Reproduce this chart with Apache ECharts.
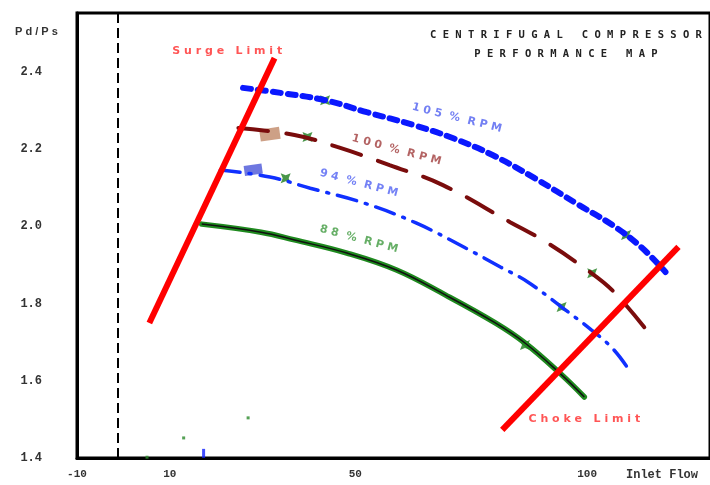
<!DOCTYPE html>
<html>
<head>
<meta charset="utf-8">
<script src="https://cdn.jsdelivr.net/npm/echarts@6/dist/echarts.min.js"></script>
<style>
  html, body { margin: 0; padding: 0; background: #fff; }
  #chart { width: 710px; height: 485px; }
</style>
</head>
<body>
<div id="chart"></div>
<script>
// axis ticks
var xTicks = [-10, 10, 50, 100];
var yTicks = [1.4, 1.6, 1.8, 2.0, 2.2, 2.4];

// speed lines [inlet flow, Pd/Ps]
var rpm105 = [[25.8, 2.359], [33.9, 2.346], [43.5, 2.327], [52.5, 2.296], [62.5, 2.263], [71.0, 2.229],
  [79.6, 2.185], [88.7, 2.125], [98.3, 2.055], [105.4, 2.004], [111.6, 1.947], [116.9, 1.882]];
var rpm100 = [[24.8, 2.255], [36.9, 2.237], [46.1, 2.206], [57.4, 2.159], [68.9, 2.107], [83.4, 2.011],
  [90.4, 1.965], [100.0, 1.887], [105.8, 1.830], [113.3, 1.724]];
var rpm94 = [[20.9, 2.146], [31.6, 2.128], [40.3, 2.099], [51.8, 2.061], [63.1, 2.009], [73.8, 1.944],
  [81.3, 1.895], [87.2, 1.856], [94.5, 1.791], [100.9, 1.732], [105.4, 1.685], [108.6, 1.636]];
var rpm88 = [[16.9, 2.006], [29.7, 1.985], [36.9, 1.965], [48.2, 1.931], [58.9, 1.887], [69.5, 1.822],
  [80.2, 1.750], [86.6, 1.698], [94.1, 1.620], [99.4, 1.558]];

// limit lines
var surgeLimit = [[5.6, 1.750], [32.6, 2.436]];
var chokeLimit = [[81.7, 1.473], [119.7, 1.947]];
var zeroFlow = -1.3;

// operating points
var greenPoints = [[43.5, 2.327], [39.7, 2.232], [35.0, 2.125], [108.4, 1.978], [101.1, 1.879],
  [94.5, 1.791], [86.6, 1.693]];
var strayPoints = [[5.1, 1.402], [13.0, 1.452], [26.9, 1.504]];
var bluePoints = [[17.3, 1.412]];

// label anchors
var labels = [
  { name: '1 0 5  %  R P M', value: [71.9, 2.281], color: '#5060f0', rotate: -14 },
  { name: '1 0 0  %  R P M', value: [58.9, 2.198], color: '#a03c3c', rotate: -15 },
  { name: '9 4  %  R P M', value: [50.8, 2.112], color: '#5062f2', rotate: -15 },
  { name: '8 8  %  R P M', value: [50.8, 1.967], color: '#3f9a3f', rotate: -15 },
  { name: 'S u r g e   L i m i t', value: [22.4, 2.454], color: '#ff2a2a', rotate: 0 },
  { name: 'C h o k e   L i m i t', value: [99.4, 1.501], color: '#ff2a2a', rotate: 0 }
];

var chart = echarts.init(document.getElementById('chart'));

var option = {
  backgroundColor: '#fff',
  animation: false,
  title: {
    text: 'C E N T R I F U G A L   C O M P R E S S O R\nP E R F O R M A N C E   M A P',
    left: 561,
    top: 21,
    textAlign: 'center',
    textStyle: {
      fontFamily: 'DejaVu Sans Mono',
      fontWeight: 'bold',
      fontSize: 10.5,
      lineHeight: 19,
      color: '#222'
    }
  },
  grid: {
    left: 77,
    top: 13,
    width: 640,
    height: 445,
    show: true,
    borderColor: '#000',
    borderWidth: 3
  },
  xAxis: {
    type: 'value',
    min: -10,
    max: 126.5,
    axisLine: { show: true, onZero: false, lineStyle: { color: '#000', width: 3 } },
    axisTick: { show: false },
    splitLine: { show: false },
    axisLabel: {
      customValues: xTicks,
      margin: 11,
      fontFamily: 'Liberation Mono',
      fontWeight: 'bold',
      fontSize: 11,
      color: '#333'
    }
  },
  yAxis: {
    type: 'value',
    min: 1.4,
    max: 2.553,
    axisLine: { show: true, onZero: false, lineStyle: { color: '#000', width: 3 } },
    axisTick: { show: false },
    splitLine: { show: false },
    axisLabel: {
      customValues: yTicks,
      formatter: function (v) { return v.toFixed(1); },
      margin: 35,
      fontFamily: 'Liberation Mono',
      fontWeight: 'bold',
      fontSize: 12,
      color: '#333'
    }
  },
  graphic: [
    {
      type: 'text', left: 15, top: 26,
      style: { text: 'P d / P s', font: 'bold 11px "Liberation Sans"', fill: '#333' }
    },
    {
      type: 'text', left: 626, top: 469,
      style: { text: 'Inlet Flow', font: 'bold 12px "Liberation Mono"', fill: '#333' }
    }
  ],
  series: [
    {
      name: 'zero',
      type: 'line',
      data: [],
      markLine: {
        silent: true,
        symbol: 'none',
        label: { show: false },
        lineStyle: { color: '#000', width: 2, type: [10, 5] },
        data: [{ xAxis: zeroFlow }]
      }
    },
    {
      name: '105 % RPM',
      type: 'line',
      data: rpm105,
      smooth: 0.4,
      showSymbol: false,
      lineStyle: { color: '#0a18ff', width: 6, type: [8, 7], cap: 'round' }
    },
    {
      name: '100 % RPM',
      type: 'line',
      data: rpm100,
      smooth: 0.4,
      showSymbol: false,
      lineStyle: { color: '#7a0c0c', width: 4, type: [30, 18], cap: 'round' }
    },
    {
      name: '94 % RPM',
      type: 'line',
      data: rpm94,
      smooth: 0.4,
      showSymbol: false,
      lineStyle: { color: '#1030ff', width: 3.5, type: [20, 9, 2, 9], cap: 'round' }
    },
    {
      name: '88 % RPM',
      type: 'line',
      data: rpm88,
      smooth: 0.4,
      showSymbol: false,
      lineStyle: { color: '#1f8a1f', width: 5.5, cap: 'round' }
    },
    {
      name: '88 core',
      type: 'line',
      data: rpm88,
      smooth: 0.4,
      showSymbol: false,
      lineStyle: { color: '#111', width: 1.5 }
    },
    {
      name: 'Surge Limit',
      type: 'line',
      data: surgeLimit,
      showSymbol: false,
      lineStyle: { color: '#ff0000', width: 6 }
    },
    {
      name: 'Choke Limit',
      type: 'line',
      data: chokeLimit,
      showSymbol: false,
      lineStyle: { color: '#ff0000', width: 6 }
    },
    {
      name: 'patch100',
      type: 'scatter',
      data: [[31.6, 2.239]],
      symbol: 'rect',
      symbolSize: [20, 12],
      symbolRotate: 8,
      itemStyle: { color: '#c08868' }
    },
    {
      name: 'patch94',
      type: 'scatter',
      data: [[28.0, 2.147]],
      symbol: 'rect',
      symbolSize: [18, 10],
      symbolRotate: 8,
      itemStyle: { color: '#4a55d8' }
    },
    {
      name: 'points',
      type: 'scatter',
      data: greenPoints,
      symbol: 'path://M0,0 L10,4 L20,0 L16,10 L20,20 L10,16 L0,20 L4,10 Z',
      symbolSize: 10,
      itemStyle: { color: '#1c7c1c' }
    },
    {
      name: 'stray',
      type: 'scatter',
      data: strayPoints,
      symbol: 'rect',
      symbolSize: 3,
      itemStyle: { color: '#2a8a2a' }
    },
    {
      name: 'blue stray',
      type: 'scatter',
      data: bluePoints,
      symbol: 'rect',
      symbolSize: [3, 9],
      itemStyle: { color: '#1020ff' }
    },
    {
      name: 'labels',
      type: 'scatter',
      symbolSize: 0,
      data: labels.map(function (d) {
        return {
          name: d.name,
          value: d.value,
          label: { color: d.color, rotate: d.rotate }
        };
      }),
      label: {
        show: true,
        position: 'inside',
        formatter: '{b}',
        fontFamily: 'DejaVu Sans',
        fontWeight: 'bold',
        fontSize: 11
      }
    }
  ]
};

chart.setOption(option);
</script>
</body>
</html>
